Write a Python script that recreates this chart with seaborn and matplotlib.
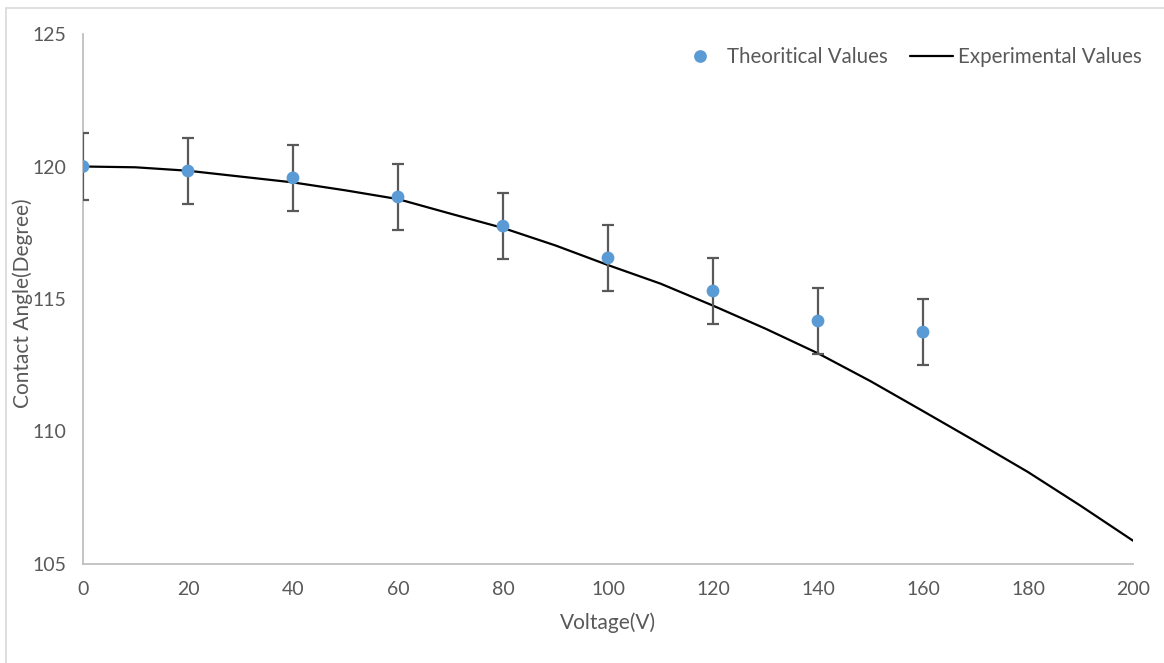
import numpy as np
import pandas as pd
import matplotlib
matplotlib.use("Agg")
import matplotlib.pyplot as plt
from matplotlib.lines import Line2D
import seaborn as sns

# Theoretical contact angles with error bars
theory_voltage = [0, 20, 40, 60, 80, 100, 120, 140, 160]
theory_angle = [120.0, 119.83, 119.57, 118.85, 117.75, 116.55, 115.3, 114.17, 113.75]
theory_err = [1.25, 1.25, 1.25, 1.25, 1.25, 1.25, 1.25, 1.25, 1.25]

# Experimental contact angle curve
exp_voltage = [0, 10, 20, 30, 40, 50, 60, 70, 80, 90, 100,
               110, 120, 130, 140, 150, 160, 170, 180, 190, 200]
exp_angle = [120.0, 119.97, 119.84, 119.62, 119.40, 119.10, 118.77, 118.22, 117.68,
             117.02, 116.28, 115.58, 114.75, 113.88, 112.95, 111.90, 110.77, 109.63,
             108.47, 107.20, 105.88]

x_ticks = [0, 20, 40, 60, 80, 100, 120, 140, 160, 180, 200]
y_ticks = [105, 110, 115, 120, 125]

sns.set_theme(style="white")
plt.rcParams["font.family"] = ["Lato", "DejaVu Sans"]

W, H = 1164, 663
fig = plt.figure(figsize=(W / 100, H / 100), dpi=100)
ax = fig.add_axes([83 / W, 1 - 564 / H, (1133 - 83) / W, (564 - 34) / H])

theory = pd.DataFrame({"Voltage": theory_voltage, "Angle": theory_angle, "Err": theory_err})
exp = pd.DataFrame({"Voltage": exp_voltage, "Angle": exp_angle})

blue = "#5B9BD5"
grey_text = "#595959"

sns.lineplot(data=exp, x="Voltage", y="Angle", ax=ax, color="black", linewidth=1.6,
             zorder=2, legend=False)
ax.errorbar(theory["Voltage"], theory["Angle"], yerr=theory["Err"], fmt="none",
            ecolor="#595959", elinewidth=1.6, capsize=4.2, capthick=1.6, zorder=3)
sns.scatterplot(data=theory, x="Voltage", y="Angle", ax=ax, color=blue, s=85,
                edgecolor="none", zorder=4, legend=False)

ax.set_xlim(0, 200)
ax.set_ylim(105, 125)
ax.set_xticks(x_ticks)
ax.set_yticks(y_ticks)
ax.tick_params(axis="both", length=0, labelsize=14, colors=grey_text)
ax.tick_params(axis="x", pad=12)
ax.tick_params(axis="y", pad=12)

for side in ("top", "right"):
    ax.spines[side].set_visible(False)
for side in ("left", "bottom"):
    ax.spines[side].set_color("#BFBFBF")
    ax.spines[side].set_linewidth(1.3)

ax.set_xlabel("")
ax.set_ylabel("")
fig.text(608 / W, 1 - 623 / H, "Voltage(V)", ha="center", va="center",
         fontsize=15, color=grey_text)
fig.text(23 / W, 1 - 303 / H, "Contact Angle(Degree)", rotation=90, ha="center",
         va="center", fontsize=15, color=grey_text)

handles = [
    Line2D([], [], marker="o", linestyle="none", markersize=9.2,
           markerfacecolor=blue, markeredgecolor="none"),
    Line2D([], [], color="black", linewidth=1.6),
]
fig.legend(handles, ["Theoritical Values", "Experimental Values"], ncol=2,
           loc="center right", bbox_to_anchor=(1142 / W, 1 - 57 / H), frameon=False,
           fontsize=14.8, labelcolor=grey_text, handlelength=2.1, handletextpad=0.25,
           columnspacing=1.07, borderaxespad=0, borderpad=0)

# Chart-area border (top and left edges)
fig.add_artist(Line2D([6 / W, 6 / W], [0, 1 - 8 / H], transform=fig.transFigure,
                      color="#D9D9D9", linewidth=1.2))
fig.add_artist(Line2D([6 / W, 1], [1 - 8 / H, 1 - 8 / H], transform=fig.transFigure,
                      color="#D9D9D9", linewidth=1.2))

fig.savefig("out.png", dpi=100, facecolor="white")
